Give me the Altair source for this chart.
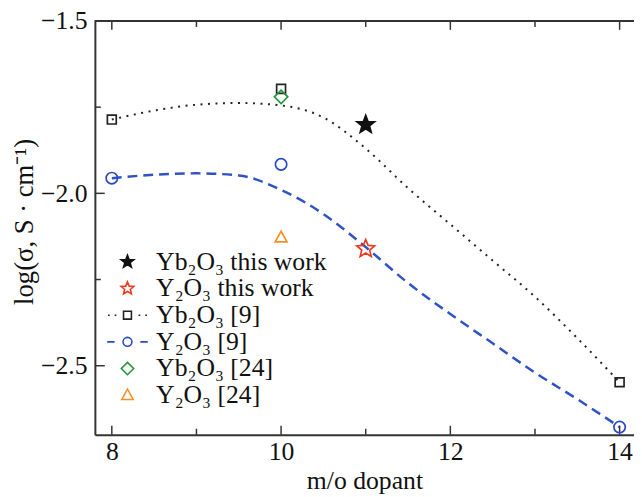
import math
import altair as alt
import pandas as pd

# ---------------- data ----------------
series = ["Yb₂O₃ this work", "Y₂O₃ this work", "Yb₂O₃ [9]", "Y₂O₃ [9]", "Yb₂O₃ [24]", "Y₂O₃ [24]"]

pt_series = ["Yb₂O₃ this work", "Y₂O₃ this work",
             "Yb₂O₃ [9]", "Yb₂O₃ [9]", "Yb₂O₃ [9]",
             "Y₂O₃ [9]", "Y₂O₃ [9]", "Y₂O₃ [9]",
             "Yb₂O₃ [24]", "Y₂O₃ [24]"]
pt_x = [11, 11, 8, 10, 14, 8, 10, 14, 10, 10]
pt_y = [-1.801, -2.161, -1.786, -1.697, -2.548, -1.956, -1.916, -2.678, -1.720, -2.128]

curve_x = [8, 8.5, 9, 9.5, 10, 10.5, 11, 11.5, 12, 12.5, 13, 13.5, 14]
dotted_y = [-1.786, -1.760, -1.743, -1.738, -1.745, -1.780, -1.870, -1.985, -2.090, -2.195, -2.300, -2.420, -2.548]
dashed_y = [-1.956, -1.946, -1.942, -1.948, -1.990, -2.060, -2.156, -2.260, -2.350, -2.435, -2.520, -2.597, -2.678]

x_major = [8, 10, 12, 14]
x_minor = [9, 11, 13]
y_major = [-1.5, -2.0, -2.5]
y_minor = [-1.75, -2.25]

# ---------------- styles ----------------
colors = ["#111111", "#ee3a1c", "#222222", "#2a48c8", "#22963a", "#f5902a"]
fills = ["#111111", "transparent", "transparent", "transparent", "transparent", "transparent"]
FONT = "Liberation Serif"
W, H = 546, 419


def star(R, r):
    pts = []
    for k in range(10):
        ang = math.radians(-90 + 36 * k)
        rad = R if k % 2 == 0 else r
        pts.append(f"{rad * math.cos(ang):.3f},{rad * math.sin(ang):.3f}")
    return "M" + "L".join(pts) + "Z"


def square(h):
    return f"M{-h},{-h}h{2*h}v{2*h}h{-2*h}Z"


def circle(r):
    return f"M{r},0A{r},{r},0,1,1,{-r},0A{r},{r},0,1,1,{r},0Z"


def diamond(h):
    return f"M0,{-h}L{h},0L0,{h}L{-h},0Z"


def triangle(h):
    return f"M0,{-1.05*h}L{h},{0.75*h}L{-h},{0.75*h}Z"


plot_shapes = [star(1.9, 0.8), star(1.9, 0.85), square(0.9), circle(1.15), diamond(1.35), triangle(1.2)]
legend_shapes = [
    star(1.35, 0.56),
    star(1.35, 0.6),
    "M-3.95,0h0.35M-2.6,0h0.35M2.25,0h0.35M3.6,0h0.35" + square(0.8),
    "M-4.1,0h1.5M2.6,0h1.5" + circle(0.9),
    diamond(1.25),
    triangle(1.15),
]

pts = pd.DataFrame({"x": pt_x, "y": pt_y, "series": pt_series})
curves = pd.DataFrame({"x": curve_x, "dotted": dotted_y, "dashed": dashed_y})

xs = alt.Scale(domain=[7.8, 14.17], nice=False, zero=False)
ys = alt.Scale(domain=[-2.7, -1.5], nice=False, zero=False)

x_enc = alt.X("x:Q", scale=xs, axis=alt.Axis(
    values=x_major, format="d", title="m/o dopant", ticks=False, grid=False,
    labelFont=FONT, labelFontSize=26, labelColor="#111", labelPadding=4,
    domainColor="#333", domainWidth=2,
    titleFont=FONT, titleFontSize=26, titleFontWeight="normal", titleColor="#111",
    titleY=55, titleBaseline="alphabetic"))
y_axis = alt.Axis(
    values=y_major, format=".1f", title="log(σ, S · cm⁻¹)", ticks=False, grid=False,
    labelFont=FONT, labelFontSize=26, labelColor="#111", labelPadding=8,
    domainColor="#333", domainWidth=2,
    titleFont=FONT, titleFontSize=27, titleFontWeight="normal", titleColor="#111",
    titleX=-71, titleY=203, titleBaseline="middle", titleAlign="center")

dotted = alt.Chart(curves).mark_line(
    interpolate="monotone", color="#222", strokeWidth=2, strokeDash=[2, 5.6]
).encode(x=x_enc, y=alt.Y("dotted:Q", scale=ys, axis=y_axis))

dashed = alt.Chart(curves).mark_line(
    interpolate="monotone", color="#2f52c6", strokeWidth=2.5, strokeDash=[10, 6]
).encode(x=alt.X("x:Q", scale=xs), y=alt.Y("dashed:Q", scale=ys))

points = alt.Chart(pts).mark_point(filled=False, opacity=1, size=100, strokeWidth=1.7).encode(
    x=alt.X("x:Q", scale=xs),
    y=alt.Y("y:Q", scale=ys),
    shape=alt.Shape("series:N", scale=alt.Scale(domain=series, range=plot_shapes), legend=None),
    stroke=alt.Stroke("series:N", scale=alt.Scale(domain=series, range=colors), legend=None),
    fill=alt.Fill("series:N", scale=alt.Scale(domain=series, range=fills), legend=None),
)

leg = alt.Legend(title=None, orient="none", legendX=20, legendY=231, padding=0,
                 labelFont=FONT, labelFontSize=26, labelColor="#111", labelLimit=400,
                 labelOffset=16, rowPadding=1, symbolStrokeWidth=1.6, symbolSize=100)

legend_layer = alt.Chart(pts).transform_filter("false").mark_point(
    filled=False, opacity=1, size=100, strokeWidth=1.6
).encode(
    x=alt.X("x:Q", scale=xs),
    y=alt.Y("y:Q", scale=ys),
    shape=alt.Shape("series:N", scale=alt.Scale(domain=series, range=legend_shapes), legend=leg),
    stroke=alt.Stroke("series:N", scale=alt.Scale(domain=series, range=colors), legend=leg),
    fill=alt.Fill("series:N", scale=alt.Scale(domain=series, range=fills), legend=leg),
)

# inward ticks
xmaj = pd.DataFrame({"x": x_major})
xmin = pd.DataFrame({"x": x_minor})
ymaj = pd.DataFrame({"y": y_major})
ymin = pd.DataFrame({"y": y_minor})


def xticks(df, y0, y1):
    return alt.Chart(df).mark_rule(color="#333", strokeWidth=1.5).encode(
        x=alt.X("x:Q", scale=xs), y=alt.value(y0), y2=alt.value(y1))


def yticks(df, x0, x1):
    return alt.Chart(df).mark_rule(color="#333", strokeWidth=1.5).encode(
        y=alt.Y("y:Q", scale=ys), x=alt.value(x0), x2=alt.value(x1))


ticks = [
    xticks(xmaj, H, H - 9), xticks(xmin, H, H - 6),
    xticks(xmaj, 0, 9), xticks(xmin, 0, 6),
    yticks(ymaj, 0, 10), yticks(ymin, 0, 6),
]

top_line = alt.Chart(xmaj).mark_rule(color="#333", strokeWidth=2).encode(
    x=alt.value(0), x2=alt.value(W), y=alt.value(0))

chart = alt.layer(dotted, dashed, *ticks, top_line, points, legend_layer).resolve_scale(
    shape="independent", stroke="independent", fill="independent"
).properties(
    width=W, height=H,
    autosize=alt.AutoSizeParams(type="none"),
    padding={"left": 88, "top": 10, "right": 0, "bottom": 60},
).configure_view(stroke=None).configure_legend(
    labelFont=FONT, labelFontSize=26, labelColor="#111", labelLimit=400,
    labelOffset=16, rowPadding=1, symbolStrokeWidth=1.6, padding=0,
)

chart.save("out.html", embed_options={"renderer": "svg", "actions": False})
